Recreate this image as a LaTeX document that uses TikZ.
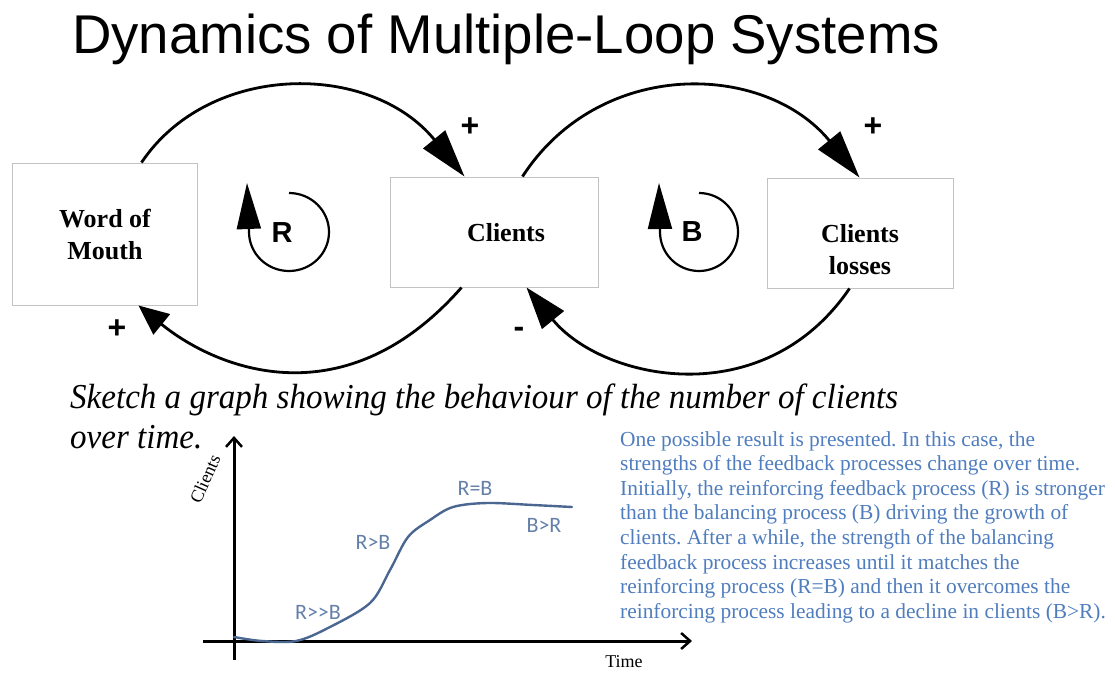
\documentclass[tikz,border=0pt]{standalone}
\usepackage{fontspec}
\setmainfont{Liberation Serif}
\setsansfont{Liberation Sans}
\newfontfamily\calib{Carlito}
\usetikzlibrary{arrows.meta,calc}
\definecolor{curveblue}{RGB}{74,102,145}
\definecolor{lblblue}{RGB}{100,128,168}
\definecolor{txtblue}{RGB}{79,125,190}
\definecolor{boxgray}{RGB}{195,195,195}
\newsavebox\sketchbox
\begin{document}
\frenchspacing
\sbox\sketchbox{\fontsize{35}{40}\selectfont\itshape Sketch a graph showing the behaviour of the number of clients}%
\pgfmathsetmacro{\skf}{828/(\the\wd\sketchbox)}%
\begin{tikzpicture}[x=1pt,y=-1pt,
  box/.style={draw=boxgray, line width=1pt, inner sep=0pt, fill=white},
  boxtxt/.style={font=\fontsize{26}{32}\selectfont\bfseries, align=center, inner sep=0pt},
  link/.style={line width=2.8pt, -{Triangle[length=48pt,width=28pt]}},
  linkb/.style={line width=2.8pt, -{Triangle[length=42pt,width=28pt]}},
  links/.style={line width=2.8pt, -{Triangle[length=30pt,width=26pt]}},
  looptip/.style={line width=2.2pt, -{Triangle[length=46pt,width=24pt]}},
  sign/.style={font=\fontsize{32}{32}\selectfont\sffamily\bfseries, inner sep=0pt},
  looplbl/.style={font=\fontsize{29}{29}\selectfont\sffamily\bfseries, inner sep=0pt},
  glbl/.style={font=\calib\fontsize{22}{22}\selectfont, text=lblblue, inner sep=0pt},
  para/.style={font=\fontsize{21.4}{24}\selectfont, text=txtblue, anchor=base west, inner sep=0pt},
  axis/.style={line width=3pt, -{Straight Barb[length=9pt,width=16pt,line width=2.5pt]}}]
\useasboundingbox (0,0) rectangle (1115,673);

% title
\node[anchor=base west, inner sep=0pt, font=\fontsize{54.6}{60}\selectfont\sffamily] (title) at (72,53) {Dynamics of Multiple-Loop Systems};

% boxes
\node[box, minimum width=185pt, minimum height=142pt] (wom) at (104.5,234) {};
\node[box, minimum width=208pt, minimum height=110pt] (cli) at (494,232) {};
\node[box, minimum width=186pt, minimum height=110pt] (los) at (860,233) {};
\node[boxtxt] (womt) at (105,234.5) {Word of\\Mouth};
\node[boxtxt] (clit) at (506,233) {Clients};
\node[boxtxt] (lost) at (860,250) {Clients\\losses};

% loop connectors
\draw[link] ($(wom.north west)+(130,0)$) .. controls (209,62) and (370,61) .. ($(cli.north west)+(75,0)$);
\draw[links] ($(cli.south west)+(72,0)$) .. controls (346,419) and (219,371) .. ($(wom.south west)+(127,0)$);
\draw[link] ($(cli.north west)+(133,0)$) .. controls (600,57) and (765,62) .. ($(los.north west)+(93,0)$);
\draw[linkb] ($(los.south west)+(83,0)$) .. controls (763,415) and (602,380) .. ($(cli.south west)+(137,0)$);

% signs
\node[sign] (s1) at (470,127) {+};
\node[sign] (s2) at (117,329) {+};
\node[sign] (s3) at (873,127) {+};
\node[sign] (s4) at (519,332) {-};

% loop symbols
\node[looplbl] (rl) at (282,233) {R};
\node[looplbl] (bl) at (692,232) {B};
\coordinate (rstart) at (289,193);
\coordinate (rtip) at (247,183);
\draw[looptip] (rstart) arc[start angle=-90, end angle=180, x radius=40, y radius=39] -- (rtip);
\coordinate (bstart) at (699,193);
\coordinate (btip) at (659,183);
\draw[looptip] (bstart) arc[start angle=-90, end angle=180, x radius=39, y radius=39] -- (btip);

% sketch text
\node[anchor=base west, inner sep=0pt] (sk1) at (70,408) {\scalebox{\skf}[1]{\usebox\sketchbox}};
\node[anchor=base west, inner sep=0pt, font=\fontsize{35}{40}\selectfont\itshape] (sk2) at (70,448) {\scalebox{\skf}[1]{over time.}};

% graph
\coordinate (ybot) at (234,660);
\coordinate (ytop) at (234,436);
\coordinate (xl) at (203,641);
\coordinate (xr) at (692,641);
\draw[axis] (ybot) -- (ytop);
\draw[axis] (xl) -- (xr);
\node[rotate=66, font=\fontsize{18}{18}\selectfont, inner sep=0pt] (ylab) at (205,479) {Clients};
\node[font=\fontsize{18}{18}\selectfont, inner sep=0pt] (xlab) at (624,662) {Time};
\draw[curveblue, line width=2.4pt, line cap=round] plot[smooth, tension=0.55] coordinates {(234,637) (262,641) (296,641) (328,628) (370,603) (390,570) (408,537) (430,520) (453,507) (487,503) (533,505) (572,507)};
\node[glbl] (g1) at (318,612) {R>>B};
\node[glbl] (g2) at (373,542) {R>B};
\node[glbl] (g3) at (475,488) {R=B};
\node[glbl] (g4) at (544,525) {B>R};

% paragraph
\node[para] (p1) at (620,446) {One possible result is presented. In this case, the};
\node[para] (p2) at (620,470.6) {strengths of the feedback processes change over time.};
\node[para] (p3) at (620,495.2) {Initially, the reinforcing feedback process (R) is stronger};
\node[para] (p4) at (620,519.8) {than the balancing process (B) driving the growth of};
\node[para] (p5) at (620,544.4) {clients. After a while, the strength of the balancing};
\node[para] (p6) at (620,569) {feedback process increases until it matches the};
\node[para] (p7) at (620,593.6) {reinforcing process (R=B) and then it overcomes the};
\node[para] (p8) at (620,618.2) {reinforcing process leading to a decline in clients (B>R).};
\end{tikzpicture}
\end{document}
